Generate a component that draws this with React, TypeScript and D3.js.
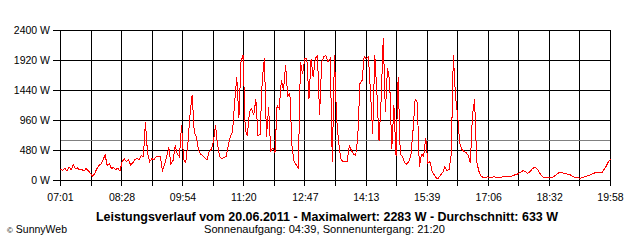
import React from 'react';
import * as d3 from 'd3';

const timeLabels = ["07:01", "08:28", "09:54", "11:20", "12:47", "14:13", "15:39", "17:06", "18:32", "19:58"];
const yTickValues = [0, 480, 960, 1440, 1920, 2400];
const startTime = "07:01";
const endTime = "19:58";
const stepMinutes = 3;
const power = [
  180, 160, 200, 150, 220, 170, 250, 190, 200, 170,
  180, 150, 190, 160, 120, 70, 100, 180, 240, 260,
  330, 410, 240, 270, 190, 210, 170, 200, 150, 300,
  350, 300, 330, 250, 280, 330, 360, 330, 400, 380,
  930, 430, 300, 350, 330, 380, 390, 380, 160, 250,
  380, 530, 260, 320, 560, 420, 380, 880, 330, 290,
  600, 1060, 1370, 760, 700, 480, 420, 400, 360, 330,
  460, 500, 620, 880, 560, 380, 350, 370, 380, 560,
  700, 780, 1250, 1650, 1000, 1900, 2010, 800, 720, 1100,
  1150, 1050, 1300, 720, 740, 1600, 1960, 700, 1170, 470,
  520, 450, 1200, 1150, 1600, 1450, 1850, 1350, 1400, 550,
  300, 250, 200, 1900, 1700, 1950, 1950, 1300, 1950, 1650,
  1950, 2000, 1050, 1900, 1980, 2000, 1900, 1950, 300, 2000,
  1000, 600, 350, 300, 300, 310, 560, 480, 420, 400,
  700, 1550, 1600, 1980, 1950, 1980, 1400, 750, 2000, 1400,
  640, 1300, 2280, 1100, 1800, 1600, 500, 1200, 400, 1650,
  420, 380, 290, 260, 300, 400, 800, 1300, 1250, 210,
  420, 390, 680, 280, 300, 150, 90, 40, 40, 90,
  130, 220, 160, 180, 420, 2000, 1350, 1050, 600, 500,
  460, 450, 400, 280, 1050, 1300, 300, 150, 70, 50,
  40, 60, 50, 40, 60, 55, 50, 50, 55, 65,
  70, 65, 60, 80, 90, 100, 120, 140, 160, 140,
  115, 140, 180, 210, 200, 160, 100, 60, 50, 50,
  50, 50, 55, 80, 110, 130, 130, 110, 110, 100,
  90, 70, 50, 45, 40, 40, 50, 60, 75, 85,
  100, 110, 130, 120, 125, 125, 180, 230, 300, 340,
];
const averageW = 633;
const maxW = 2283;
const dateLabel = "20.06.2011";
const sunrise = "04:39";
const sunset = "21:20";

const toMin = (s: string) => {
  const [h, m] = s.split(':').map(Number);
  return h * 60 + m;
};
const crisp = (v: number) => Math.floor(v) + 0.5;

const FONT = '"Liberation Sans", Arial, sans-serif';

export default function App() {
  const t0 = toMin(startTime);
  const t1 = toMin(endTime);
  const x = d3.scaleLinear().domain([t0, t1]).range([60.5, 610.5]);
  const y = d3.scaleLinear().domain([0, 2400]).range([180.5, 30.5]);
  const gridTimes = d3.range(19).map((k) => t0 + (k * (t1 - t0)) / 18);
  const line = d3
    .line<number>()
    .x((_, i) => x(t0 + i * stepMinutes))
    .y((d) => y(d));

  return (
    <svg
      width={640}
      height={240}
      style={{ position: 'absolute', left: 0, top: 0, display: 'block', background: '#fff' }}
    >
      <rect x={0} y={0} width={640} height={240} fill="#fff" />
      {/* vertical grid with tick marks */}
      {gridTimes.map((t, k) => (
        <line
          key={'v' + k}
          x1={crisp(x(t))}
          x2={crisp(x(t))}
          y1={30}
          y2={186}
          stroke="#000"
          strokeWidth={1}
          shapeRendering="crispEdges"
        />
      ))}
      {/* horizontal grid with tick marks */}
      {yTickValues.map((v) => (
        <line
          key={'h' + v}
          x1={53}
          x2={611}
          y1={crisp(y(v))}
          y2={crisp(y(v))}
          stroke="#000"
          strokeWidth={1}
          shapeRendering="crispEdges"
        />
      ))}
      {/* average line */}
      <line
        x1={61}
        x2={610}
        y1={crisp(y(averageW))}
        y2={crisp(y(averageW))}
        stroke="#808080"
        strokeWidth={1}
        shapeRendering="crispEdges"
      />
      {/* data */}
      <path
        d={line(power) || ''}
        fill="none"
        stroke="#ff0000"
        strokeWidth={1}
        shapeRendering="crispEdges"
      />
      {/* y labels */}
      {yTickValues.map((v) => (
        <text
          key={'yl' + v}
          x={50}
          y={crisp(y(v)) + 3.8}
          textAnchor="end"
          fontFamily={FONT}
          fontSize={10.5}
          fill="#000"
        >
          {v} W
        </text>
      ))}
      {/* x labels */}
      {timeLabels.map((s) => (
        <text
          key={'xl' + s}
          x={x(toMin(s))}
          y={201}
          textAnchor="middle"
          fontFamily={FONT}
          fontSize={10.5}
          fill="#000"
        >
          {s}
        </text>
      ))}
      <text
        x={327}
        y={220.5}
        textAnchor="middle"
        fontFamily={FONT}
        fontSize={12}
        fontWeight="bold"
        textLength={462}
        lengthAdjust="spacingAndGlyphs"
        fill="#000"
      >
        {`Leistungsverlauf vom ${dateLabel} - Maximalwert: ${maxW} W - Durchschnitt: ${averageW} W`}
      </text>
      <text
        x={324.5}
        y={233}
        textAnchor="middle"
        fontFamily={FONT}
        fontSize={10.5}
        textLength={241}
        lengthAdjust="spacingAndGlyphs"
        fill="#000"
      >
        {`Sonnenaufgang: ${sunrise}, Sonnenuntergang: ${sunset}`}
      </text>
      <text x={7} y={233} fontFamily={FONT} fontSize={10.5} fill="#000">
        <tspan fontSize={8}>©</tspan> SunnyWeb
      </text>
    </svg>
  );
}
